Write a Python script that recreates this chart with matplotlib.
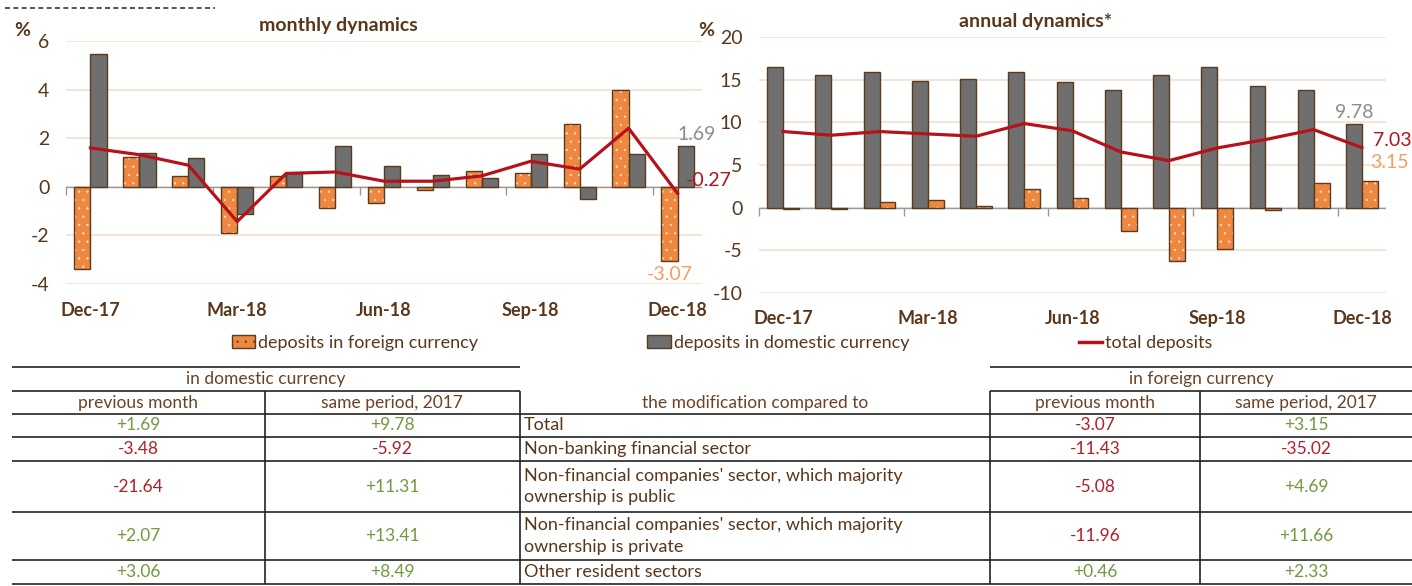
import numpy as np
import matplotlib
matplotlib.use('Agg')
import matplotlib.pyplot as plt
from matplotlib.patches import Patch
from matplotlib.lines import Line2D

plt.rcParams['font.family'] = ['Lato', 'DejaVu Sans']
plt.rcParams['axes.unicode_minus'] = False
plt.rcParams['hatch.linewidth'] = 0.4

# chart data
months = ['Dec-17', 'Jan-18', 'Feb-18', 'Mar-18', 'Apr-18', 'May-18', 'Jun-18',
          'Jul-18', 'Aug-18', 'Sep-18', 'Oct-18', 'Nov-18', 'Dec-18']
m_foreign = [-3.37, 1.24, 0.43, -1.91, 0.43, -0.89, -0.66, -0.14, 0.65, 0.55, 2.59, 3.99, -3.07]
m_domestic = [5.47, 1.39, 1.18, -1.10, 0.58, 1.66, 0.87, 0.48, 0.37, 1.35, -0.52, 1.35, 1.69]
m_total = [1.60, 1.32, 0.89, -1.43, 0.55, 0.61, 0.23, 0.23, 0.45, 1.05, 0.73, 2.41, -0.27]
a_domestic = [16.43, 15.49, 15.84, 14.90, 15.06, 15.84, 14.74, 13.80, 15.49, 16.43, 14.27, 13.80, 9.78]
a_foreign = [-0.12, -0.12, 0.70, 0.86, 0.23, 2.23, 1.13, -2.74, -6.30, -4.89, -0.27, 2.85, 3.15]
a_total = [8.92, 8.49, 8.92, 8.64, 8.37, 9.86, 9.00, 6.53, 5.51, 7.00, 7.98, 9.15, 7.03]

# table data
row_names = ['Total', 'Non-banking financial sector',
             "Non-financial companies' sector, which majority\nownership is public",
             "Non-financial companies' sector, which majority\nownership is private",
             'Other resident sectors']
dom_prev = [1.69, -3.48, -21.64, 2.07, 3.06]
dom_same = [9.78, -5.92, 11.31, 13.41, 8.49]
for_prev = [-3.07, -11.43, -5.08, -11.96, 0.46]
for_same = [3.15, -35.02, 4.69, 11.66, 2.33]

ORANGE = '#ee8840'
GREY = '#6f6f6f'
RED = '#b5121b'
EDGE = '#5a3b1f'
BROWN = '#6b4226'
DARK = '#5a361a'
GRID = '#f5dfcc'
POS = '#6f9a3e'
NEG = '#b0202a'

W, H = 1412, 586
fig = plt.figure(figsize=(W / 100, H / 100), dpi=100)


def px_rect(x0, y_top, x1, y_bot):
    return [x0 / W, 1 - y_bot / H, (x1 - x0) / W, (y_bot - y_top) / H]


def draw_panel(ax, first, second, total, first_col, second_col, ylim, yticks, lab_pad):
    x = np.arange(len(months))
    bw = 0.33
    for vals, col, off in [(first, first_col, -bw / 2), (second, second_col, bw / 2)]:
        if col == ORANGE:
            ax.bar(x + off, vals, bw, color=ORANGE, edgecolor='#fbe3cf', hatch='..', linewidth=0, zorder=3)
            ax.bar(x + off, vals, bw, fill=False, edgecolor=EDGE, linewidth=1, zorder=4)
        else:
            ax.bar(x + off, vals, bw, color=GREY, edgecolor=EDGE, linewidth=1, zorder=3)
    ax.plot(x, total, color=RED, lw=2.3, zorder=5)
    ax.set_xlim(-0.5, len(months) - 0.5)
    ax.set_ylim(*ylim)
    ax.set_yticks(yticks)
    ax.yaxis.grid(True, color=GRID, lw=1.2, zorder=0)
    ax.axhline(0, color='#999999', lw=1, zorder=2)
    for s in ax.spines.values():
        s.set_visible(False)
    ax.set_xticks(x[::3])
    ax.set_xticklabels(months[::3], fontsize=13, color=DARK, fontweight='bold')
    ax.tick_params(axis='x', length=0, pad=lab_pad)
    ax.tick_params(axis='y', length=0, pad=12, labelsize=14, labelcolor=DARK)
    # small tick marks on the zero line between quarter groups
    zero_loc = (0 - ylim[0]) / (ylim[1] - ylim[0])
    sec = ax.secondary_xaxis(zero_loc)
    sec.set_xticks(np.arange(-0.5, len(months) - 1, 3))
    sec.set_xticklabels([])
    sec.tick_params(length=6, width=1, color='#999999')
    sec.spines['bottom'].set_visible(False)
    return x


# left: monthly dynamics
ax1 = fig.add_axes(px_rect(66, 41, 702, 284))
x1 = draw_panel(ax1, m_foreign, m_domestic, m_total, ORANGE, GREY, (-4, 6), [-4, -2, 0, 2, 4, 6], 13)
ax1.annotate(f'{m_domestic[-1]:.2f}', (x1[-1] + 0.165, m_domestic[-1]), xytext=(8, 2),
             textcoords='offset points', ha='center', va='bottom', color='#8c8c8c',
             fontsize=14, annotation_clip=False)
ax1.annotate(f'{m_total[-1]:.2f}', (x1[-1], m_total[-1]), xytext=(6, 9),
             textcoords='offset points', ha='left', va='center', color=RED,
             fontsize=14, annotation_clip=False)
ax1.annotate(f'{m_foreign[-1]:.2f}', (x1[-1] - 0.165, m_foreign[-1]), xytext=(0, -3),
             textcoords='offset points', ha='center', va='top', color='#f0a060',
             fontsize=14, annotation_clip=False)

# right: annual dynamics
ax2 = fig.add_axes(px_rect(759, 37, 1386, 293))
x2 = draw_panel(ax2, a_domestic, a_foreign, a_total, GREY, ORANGE, (-10, 20), [-10, -5, 0, 5, 10, 15, 20], 12)
ax2.annotate(f'{a_domestic[-1]:.2f}', (x2[-1] - 0.165, a_domestic[-1]), xytext=(0, 2),
             textcoords='offset points', ha='center', va='bottom', color='#8c8c8c',
             fontsize=14, annotation_clip=False)
ax2.annotate(f'{a_total[-1]:.2f}', (x2[-1], a_total[-1]), xytext=(8, 5),
             textcoords='offset points', ha='left', va='center', color=RED,
             fontsize=14, annotation_clip=False)
ax2.annotate(f'{a_foreign[-1]:.2f}', (x2[-1] + 0.165, a_foreign[-1]), xytext=(0, 13),
             textcoords='offset points', ha='left', va='center', color='#f0a060',
             fontsize=14, annotation_clip=False)

# titles and % labels
fig.text(338 / W, 1 - 25 / H, 'monthly dynamics', ha='center', va='center', fontsize=14,
         fontweight='bold', color=DARK)
fig.text(1036 / W, 1 - 22 / H, 'annual dynamics*', ha='center', va='center', fontsize=14,
         fontweight='bold', color=DARK)
fig.text(22 / W, 1 - 30 / H, '%', ha='center', va='center', fontsize=14, fontweight='bold',
         color=DARK)
fig.text(706 / W, 1 - 30 / H, '%', ha='center', va='center', fontsize=14, fontweight='bold',
         color=DARK)

# leftover dashed rule at top
fig.add_artist(Line2D([5 / W, 215 / W], [1 - 8 / H, 1 - 8 / H], color='#333333',
                      lw=1.2, ls=(0, (3, 2))))

# legend
handles = [Patch(facecolor=ORANGE, edgecolor=EDGE, hatch='..'),
           Patch(facecolor=GREY, edgecolor=EDGE),
           Line2D([], [], color=RED, lw=2.5)]
labels = ['deposits in foreign currency', 'deposits in domestic currency', 'total deposits']
fig.legend(handles, labels, loc='center', bbox_to_anchor=(722 / W, 1 - 343 / H), ncol=3,
           frameon=False, handlelength=1.3, handleheight=0.7, handletextpad=0.15,
           columnspacing=9.4, prop={'size': 13}, labelcolor=DARK)

# table
tx = fig.add_axes([0, 0, 1, 1], zorder=-1)
tx.set_xlim(0, W)
tx.set_ylim(H, 0)
tx.axis('off')
rows = [414, 437, 461, 512, 560, 584]
lc = '#222222'
for seg in [(12, 520), (990, W)]:
    tx.hlines([367, 391], *seg, color=lc, lw=1.2)
tx.hlines(rows, 12, W, color=lc, lw=1.2)
tx.vlines([265, 520, 990, 1200], 391, 584, color=lc, lw=1.2)

hdr = dict(ha='center', va='center', fontsize=12.5, color=BROWN)
tx.text(266, 379, 'in domestic currency', **hdr)
tx.text(1201, 379, 'in foreign currency', **hdr)
tx.text(138, 403, 'previous month', **hdr)
tx.text(392, 403, 'same period, 2017', **hdr)
tx.text(755, 403, 'the modification compared to', **hdr)
tx.text(1095, 403, 'previous month', **hdr)
tx.text(1306, 403, 'same period, 2017', **hdr)

for i, name in enumerate(row_names):
    yc = (rows[i] + rows[i + 1]) / 2
    tx.text(524, yc, name, ha='left', va='center', fontsize=13, color=DARK,
            linespacing=1.4)
    for cx, v in zip([138, 392, 1095, 1306], [dom_prev[i], dom_same[i], for_prev[i], for_same[i]]):
        tx.text(cx, yc, f'{v:+.2f}', ha='center', va='center', fontsize=12.5,
                color=POS if v > 0 else NEG)

fig.savefig('out.png', dpi=100)
